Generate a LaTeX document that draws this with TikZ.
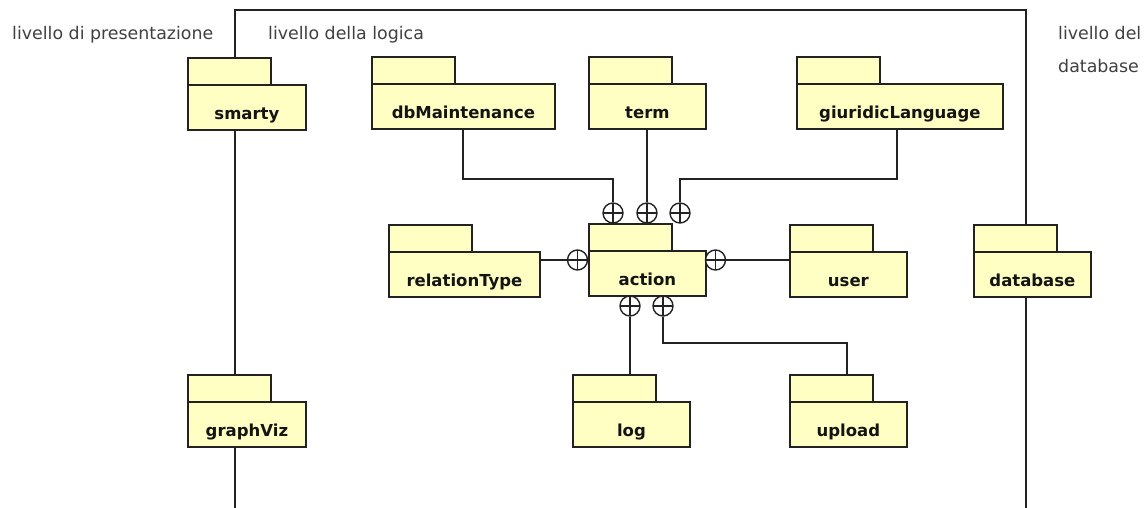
\documentclass[tikz,border=0pt]{standalone}
\usepackage{fontspec}
\setmainfont{DejaVu Sans}
\definecolor{pkgfill}{HTML}{FFFFC4}
\definecolor{pkgline}{HTML}{222222}
\definecolor{layertext}{HTML}{404040}
\tikzset{
  pkgtab/.style={draw=pkgline, fill=pkgfill, line width=1.8pt, anchor=north west,
    minimum width=83pt, minimum height=27pt, inner sep=0pt},
  pkgbody/.style={draw=pkgline, fill=pkgfill, line width=1.8pt, anchor=north west,
    minimum height=45pt, inner sep=0pt, text height=25pt, text depth=0pt,
    font=\fontsize{16.5}{19}\selectfont\bfseries, text=black!92},
  contain/.style={circle, draw=pkgline, fill=white, line width=1.4pt, minimum size=20pt,
    inner sep=0pt, path picture={
      \draw[line width=1.4pt] (path picture bounding box.north) -- (path picture bounding box.south)
        (path picture bounding box.west) -- (path picture bounding box.east);}},
  link/.style={draw=pkgline, line width=1.6pt},
  layer/.style={anchor=base west, inner sep=0pt, text=layertext,
    font=\fontsize{17.4}{20}\selectfont, align=left},
}
% a UML package: tab plus body with its name
\newcommand\umlpkg[5]{%
  \node[pkgtab] (#1tab) at (#2,#3) {};
  \node[pkgbody, minimum width=#4pt] (#1) at (#2,#3+27) {#5};
}
\begin{document}
\begin{tikzpicture}[x=1pt, y=-1pt]
\useasboundingbox (0,0) rectangle (1148,508);

% layer separators
\draw[link] (235,508) -- (235,10) -- (1026,10) -- (1026,508);

% layer titles
\node[layer] (lp) at (12,40) {livello di presentazione};
\node[layer] (ll) at (268,40) {livello della logica};
\node[layer] (ld) at (1058,40) {livello del};
\node[layer] (ld2) at (1058,73) {database};

% packages
\umlpkg{smarty}{187}{57}{118}{smarty}
\umlpkg{graphViz}{187}{374}{118}{graphViz}
\umlpkg{dbMaintenance}{371}{56}{183}{dbMaintenance}
\umlpkg{term}{588}{56}{117}{term}
\umlpkg{giuridicLanguage}{796}{56}{206}{giuridicLanguage}
\umlpkg{relationType}{388}{224}{151}{relationType}
\umlpkg{action}{588}{223}{117}{action}
\umlpkg{user}{789}{224}{117}{user}
\umlpkg{database}{973}{224}{117}{database}
\umlpkg{log}{572}{374}{117}{log}
\umlpkg{upload}{789}{374}{117}{upload}

% containment symbols around action
\node[contain] (cTop1) at (613,213) {};
\node[contain] (cTop2) at (647,213) {};
\node[contain] (cTop3) at (680,213) {};
\node[contain] (cLeft) at (577.5,260) {};
\node[contain] (cRight) at (715.5,260) {};
\node[contain] (cBot1) at (630,306) {};
\node[contain] (cBot2) at (663,306) {};

% containment links
\draw[link] ([xshift=92pt]dbMaintenance.south west) -- ++(0,49) -| (cTop1.north);
\draw[link] (term.south -| cTop2) -- (cTop2.north);
\draw[link] ([xshift=101pt]giuridicLanguage.south west) -- ++(0,49) -| (cTop3.north);
\draw[link] (relationType.east |- cLeft) -- (cLeft.west);
\draw[link] (user.west |- cRight) -- (cRight.east);
\draw[link] (logtab.north -| cBot1) -- (cBot1.south);
\draw[link] ([xshift=58pt]uploadtab.north west) -- ++(0,-31) -| (cBot2.south);
\end{tikzpicture}
\end{document}
